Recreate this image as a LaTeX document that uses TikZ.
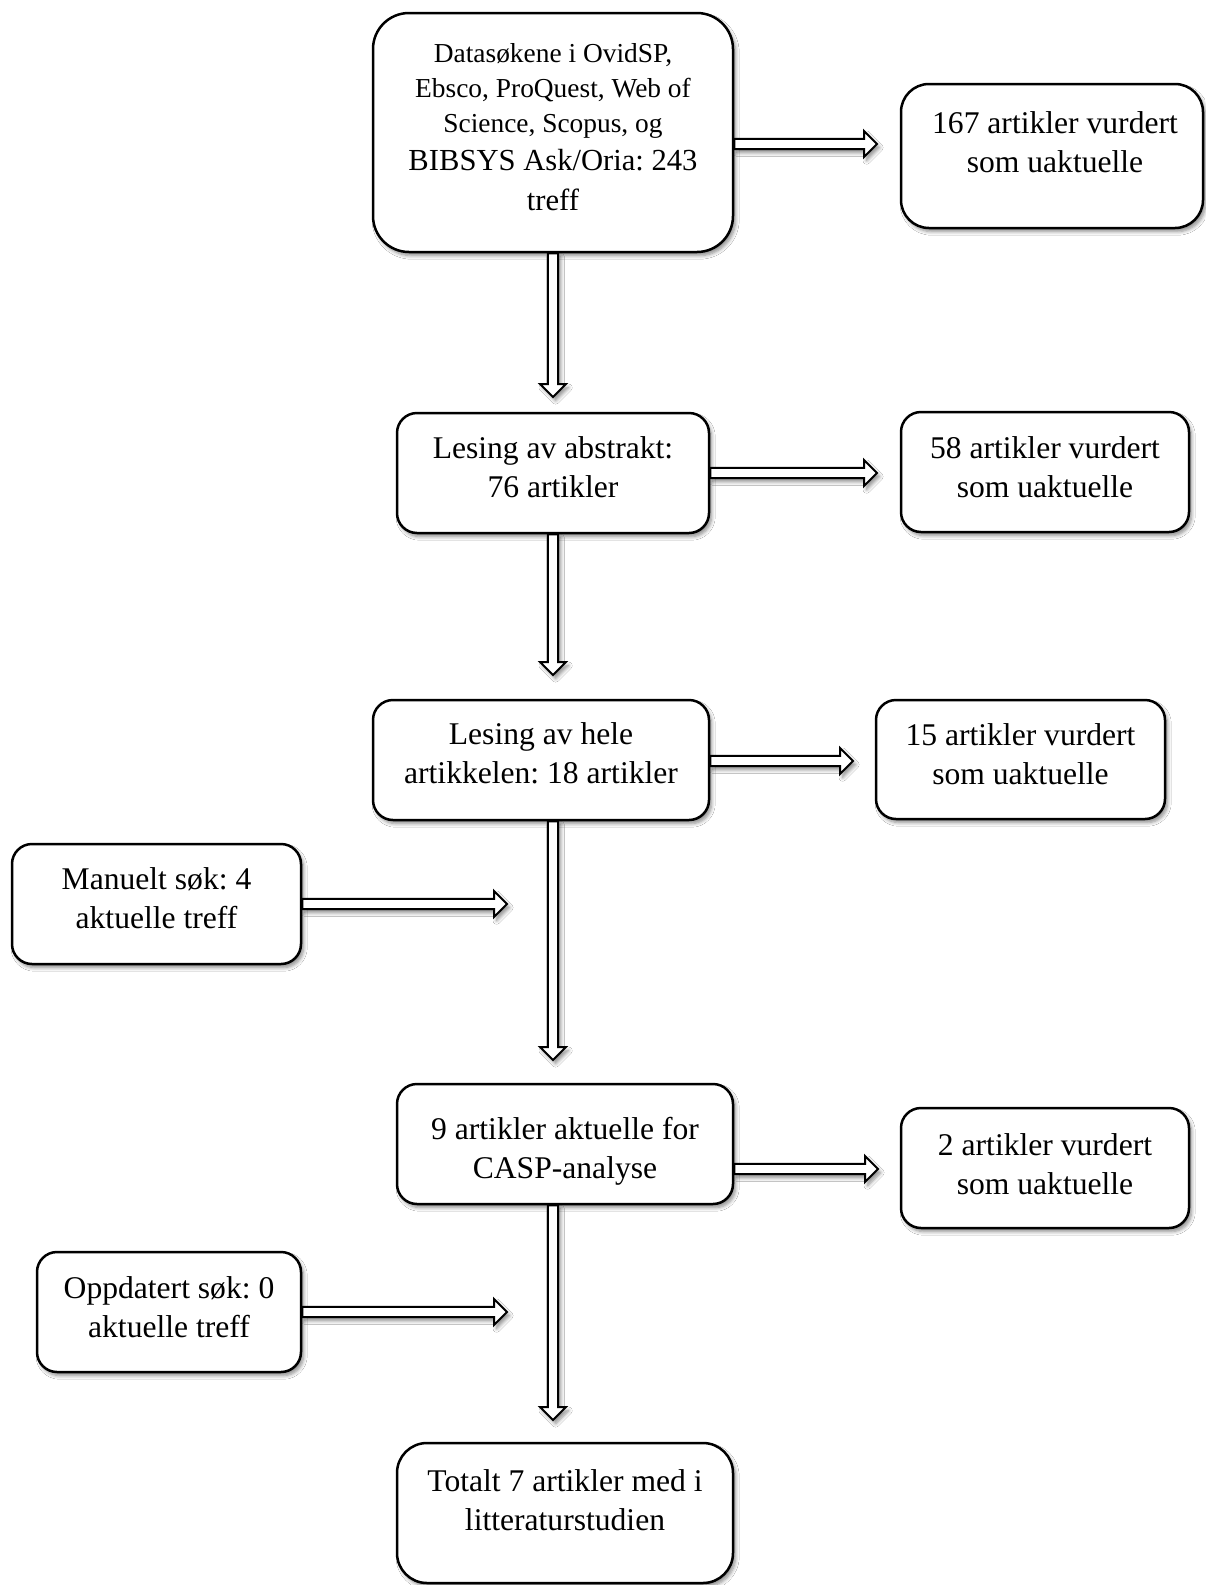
\documentclass[tikz,border=0pt]{standalone}
\usepackage{fontspec}
\setmainfont{Liberation Serif}
\usetikzlibrary{calc,shadows.blur}
\frenchspacing

\tikzset{
  shade/.style={blur shadow={shadow xshift=1.3pt, shadow yshift=-1.8pt, shadow blur radius=1.8pt, shadow blur steps=6, shadow opacity=45}},
  box/.style={draw=black, line width=1.25pt, fill=white, rounded corners=10pt, inner sep=0pt, shade},
  txt/.style={align=center, anchor=north, inner sep=0pt, font=\fontsize{15.8}{19.5}\selectfont},
  smalltxt/.style={align=center, anchor=north, inner sep=0pt, font=\fontsize{13.7}{17.5}\selectfont},
  bigtxt/.style={align=center, anchor=north, inner sep=0pt, font=\fontsize{15.3}{20}\selectfont},
  arr/.style={draw=black, line width=1pt, fill=white, line join=miter, shade},
}

\newcommand{\hblockarrow}[2]{%
  \path[arr] let \p1=(#1), \p2=(#2) in
    (\x1,\y2+2.6pt) -- (\x2-6.5pt,\y2+2.6pt) -- (\x2-6.5pt,\y2+6.5pt) -- (\x2,\y2)
    -- (\x2-6.5pt,\y2-6.5pt) -- (\x2-6.5pt,\y2-2.6pt) -- (\x1,\y2-2.6pt) -- cycle;}
\newcommand{\vblockarrow}[2]{%
  \path[arr] let \p1=(#1), \p2=(#2) in
    (\x2-2.6pt,\y1) -- (\x2-2.6pt,\y2+6.5pt) -- (\x2-6.5pt,\y2+6.5pt) -- (\x2,\y2)
    -- (\x2+6.5pt,\y2+6.5pt) -- (\x2+2.6pt,\y2+6.5pt) -- (\x2+2.6pt,\y1) -- cycle;}

\begin{document}
\begin{tikzpicture}[x=0.5pt,y=-0.5pt]
\useasboundingbox (0,0) rectangle (1205,1585);
\fill[white] (0,0) rectangle (1205,1585);

% boxes
\node[box, rounded corners=18pt, minimum width=180pt, minimum height=119.5pt] (b1) at (553,132.5) {};
\node[box, rounded corners=14pt, minimum width=151pt, minimum height=72pt] (r1) at (1052,156) {};
\node[box, minimum width=156pt, minimum height=60pt] (b2) at (553,473) {};
\node[box, minimum width=144pt, minimum height=60pt] (r2) at (1045,472) {};
\node[box, minimum width=168pt, minimum height=60pt] (b3) at (541,760) {};
\node[box, minimum width=144.5pt, minimum height=59.5pt] (r3) at (1020.5,759.5) {};
\node[box, minimum width=144.5pt, minimum height=60pt] (l1) at (156.5,904) {};
\node[box, minimum width=168pt, minimum height=60pt] (b4) at (565,1144) {};
\node[box, minimum width=144pt, minimum height=60pt] (r4) at (1045,1168) {};
\node[box, minimum width=132pt, minimum height=60pt] (l2) at (169,1312) {};
\node[box, rounded corners=15pt, minimum width=168pt, minimum height=70pt] (b5) at (565,1513) {};

% texts
\node[smalltxt] (b1ta) at (553,43) {Datasøkene i OvidSP,\\Ebsco, ProQuest, Web of\\Science, Scopus, og};
\node[bigtxt] (b1tb) at (553,149) {BIBSYS Ask/Oria: 243\\treff};
\node[txt] (r1t) at (1055,111) {167 artikler vurdert\\som uaktuelle};
\node[txt] (b2t) at (553,436) {Lesing av abstrakt:\\76 artikler};
\node[txt] (r2t) at (1045,436) {58 artikler vurdert\\som uaktuelle};
\node[txt] (b3t) at (541,722) {Lesing av hele\\artikkelen: 18 artikler};
\node[txt] (r3t) at (1020.5,723) {15 artikler vurdert\\som uaktuelle};
\node[txt] (l1t) at (156.5,867) {Manuelt søk: 4\\aktuelle treff};
\node[txt] (b4t) at (565,1117) {9 artikler aktuelle for\\CASP-analyse};
\node[txt] (r4t) at (1045,1133) {2 artikler vurdert\\som uaktuelle};
\node[txt] (l2t) at (169,1276) {Oppdatert søk: 0\\aktuelle treff};
\node[txt] (b5t) at (565,1469) {Totalt 7 artikler med i\\litteraturstudien};

% arrow tips
\coordinate (t1) at (877,144);
\coordinate (t2) at (877,473);
\coordinate (t3) at (853,761);
\coordinate (t4) at (507,904);
\coordinate (t5) at (878,1169);
\coordinate (t6) at (507,1312);
\coordinate (d1) at (553,397);
\coordinate (d2) at (553,675);
\coordinate (d3) at (553,1060);
\coordinate (d4) at (553,1420);

% horizontal arrows
\hblockarrow{b1.east}{t1}
\hblockarrow{b2.east}{t2}
\hblockarrow{b3.east}{t3}
\hblockarrow{l1.east}{t4}
\hblockarrow{b4.east}{t5}
\hblockarrow{l2.east}{t6}

% vertical arrows
\vblockarrow{b1.south}{d1}
\vblockarrow{b2.south}{d2}
\vblockarrow{b3.south}{d3}
\vblockarrow{b4.south}{d4}
\end{tikzpicture}
\end{document}
